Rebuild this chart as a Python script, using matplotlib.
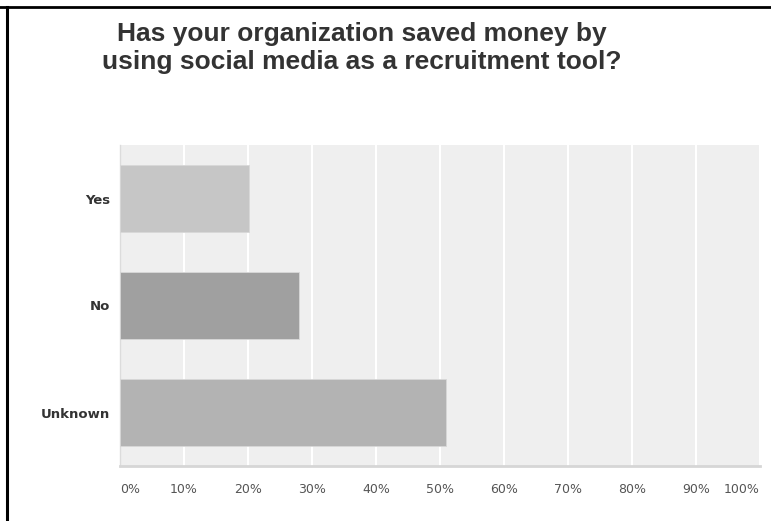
import matplotlib
matplotlib.use("Agg")
import matplotlib.pyplot as plt
from matplotlib.lines import Line2D

categories = ["Yes", "No", "Unknown"]
values = [20.2, 28.0, 51.0]
colors = ["#c6c6c6", "#a0a0a0", "#b3b3b3"]
xticks = [0, 10, 20, 30, 40, 50, 60, 70, 80, 90, 100]
xtick_labels = [f"{t}%" for t in xticks]
title = "Has your organization saved money by\nusing social media as a recruitment tool?"

W, H = 771, 521
fig = plt.figure(figsize=(W / 100, H / 100), dpi=100)
fig.patch.set_facecolor("white")

ax = fig.add_axes([120 / W, 1 - 466 / H, 640 / W, 321 / H])
ax.set_facecolor("#efefef")
ypos = list(range(len(categories)))
ax.barh(ypos, values, height=0.62, color=colors, edgecolor="#d8d8d8", linewidth=0.6, zorder=3)
ax.set_xlim(0, 100)
ax.set_ylim(len(categories) - 0.5, -0.5)
ax.set_xticks(xticks)
ax.set_xticklabels(xtick_labels, fontsize=9, color="#555555", family="DejaVu Sans")
labels = ax.get_xticklabels()
labels[0].set_horizontalalignment("left")
labels[-1].set_horizontalalignment("right")
ax.set_yticks(ypos)
ax.set_yticklabels(categories, fontsize=9.5, color="#333333", fontweight="bold", family="DejaVu Sans")
ax.tick_params(axis="x", length=0, pad=12)
ax.tick_params(axis="y", length=0, pad=7)
ax.grid(axis="x", color="white", linewidth=1.5, zorder=1)
ax.set_axisbelow(True)
for s in ["top", "right"]:
    ax.spines[s].set_visible(False)
ax.spines["bottom"].set_color("#d6d6d6")
ax.spines["bottom"].set_linewidth(2)
ax.spines["left"].set_color("#dcdcdc")
ax.spines["left"].set_linewidth(1)

fig.text(362 / W, 1 - 48 / H, title, ha="center", va="center", fontsize=19,
         fontweight="bold", color="#333333", family="Liberation Sans", linespacing=1.22)

# frame lines (top and left border)
fig.add_artist(Line2D([0, 1], [1 - 7 / H, 1 - 7 / H], transform=fig.transFigure, color="black", linewidth=2))
fig.add_artist(Line2D([7 / W, 7 / W], [0, 1 - 7 / H], transform=fig.transFigure, color="black", linewidth=2.2))

fig.savefig("out.png", dpi=100)
